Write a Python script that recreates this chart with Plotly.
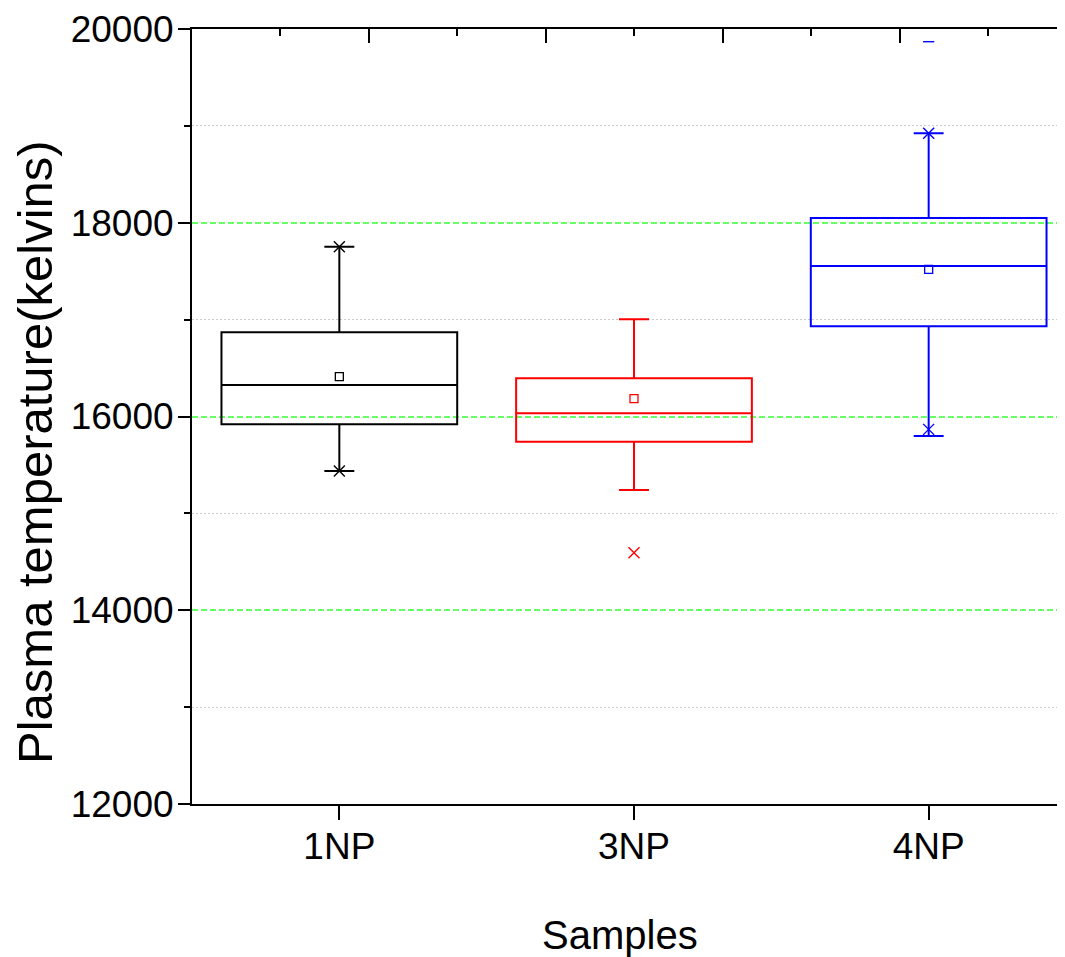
import plotly.graph_objects as go

categories = ["1NP", "3NP", "4NP"]
positions = [1, 2, 3]
q1 = [15919, 15740, 16931]
median = [16325, 16033, 17553]
q3 = [16869, 16394, 18049]
lower_whisker = [15437, 15241, 15798]
upper_whisker = [17753, 17003, 18923]
means = [16411, 16184, 17519]
colors = ["#000000", "#ff0000", "#0000ff"]

# extreme / outlier markers (x markers)
x_marks_pos = [1, 1, 2, 3, 3]
x_marks_val = [17753, 15437, 14594, 18923, 15867]
x_marks_col = ["#000000", "#000000", "#ff0000", "#0000ff", "#0000ff"]
# max marker shown as dash for 4NP
dash_pos = [3]
dash_val = [19869]

FONT = "Liberation Sans, Arial"
PLOT_W = 884

fig = go.Figure()

for i in range(3):
    fig.add_trace(go.Box(
        x=[positions[i]], q1=[q1[i]], median=[median[i]], q3=[q3[i]],
        lowerfence=[lower_whisker[i]], upperfence=[upper_whisker[i]],
        width=0.8, whiskerwidth=0.127, boxpoints=False,
        fillcolor="rgba(0,0,0,0)", line=dict(color=colors[i], width=2),
        showlegend=False, hoverinfo="skip",
    ))

fig.add_trace(go.Scatter(
    x=positions, y=means, mode="markers",
    marker=dict(symbol="square-open", size=8, color=colors, line=dict(width=1.3, color=colors)),
    showlegend=False, hoverinfo="skip",
))
fig.add_trace(go.Scatter(
    x=x_marks_pos, y=x_marks_val, mode="markers",
    marker=dict(symbol="x-thin-open", size=11, color=x_marks_col, line=dict(width=1.4, color=x_marks_col)),
    showlegend=False, hoverinfo="skip",
))
fig.add_trace(go.Scatter(
    x=dash_pos, y=dash_val, mode="markers",
    marker=dict(symbol="line-ew-open", size=8, color="#0000ff", line=dict(width=1.4, color="#0000ff")),
    showlegend=False, hoverinfo="skip",
))
# helper traces so the decorative top/right axes exist
fig.add_trace(go.Scatter(x=[None], y=[None], xaxis="x2", yaxis="y", showlegend=False, hoverinfo="skip"))
fig.add_trace(go.Scatter(x=[None], y=[None], xaxis="x", yaxis="y2", showlegend=False, hoverinfo="skip"))

fig.update_layout(
    width=184 + PLOT_W + 1, height=949,
    margin=dict(l=184, r=1, t=21, b=153, autoexpand=False),
    paper_bgcolor="white", plot_bgcolor="white",
    boxmode="overlay",
    font=dict(family=FONT, color="black", size=37),
    xaxis=dict(
        range=[0.5, 3.5],
        tickvals=positions, ticktext=categories,
        ticks="outside", ticklen=14, tickwidth=2, tickcolor="black",
        ticklabelstandoff=-5,
        showline=True, linewidth=2, linecolor="black",
        showgrid=False, zeroline=False,
        tickfont=dict(family=FONT, size=37, color="black"),
    ),
    xaxis2=dict(
        overlaying="x", side="top", range=[0, PLOT_W / 88.44],
        dtick=2, tick0=0, ticks="inside", ticklen=14, tickwidth=2, tickcolor="black",
        minor=dict(dtick=1, ticks="inside", ticklen=7, tickwidth=2, tickcolor="black", showgrid=False),
        showticklabels=False, showline=True, linewidth=2, linecolor="black",
        showgrid=False, zeroline=False,
    ),
    yaxis=dict(
        range=[12000, 20000], dtick=2000, tick0=12000, tickformat="d",
        ticks="outside", ticklen=12, tickwidth=2, tickcolor="black",
        ticklabelstandoff=-3,
        showline=True, linewidth=2, linecolor="black",
        showgrid=True, gridcolor="#66ff66", gridwidth=1.5, griddash="6px,3px",
        minor=dict(dtick=1000, ticks="outside", ticklen=6, tickwidth=2, tickcolor="black",
                   showgrid=True, gridcolor="#cccccc", gridwidth=1.2, griddash="2px,2px"),
        zeroline=False,
        tickfont=dict(family=FONT, size=37, color="black"),
    ),
    yaxis2=dict(
        overlaying="y", side="right", range=[0, 775 / 155.7],
        dtick=1, tick0=0, ticks="inside", ticklen=13, tickwidth=2, tickcolor="black",
        showticklabels=False, showline=True, linewidth=2, linecolor="black",
        showgrid=False, zeroline=False,
    ),
    annotations=[
        dict(text="Plasma temperature(kelvins)", textangle=-90, showarrow=False,
             xref="paper", yref="paper", x=(35 - 192) / PLOT_W, y=(804 - 452) / 775,
             xanchor="center", yanchor="middle",
             font=dict(family=FONT, size=49, color="black")),
        dict(text="Samples", showarrow=False,
             xref="paper", yref="paper", x=(619.5 - 192) / PLOT_W, y=-(935 - 804) / 775,
             xanchor="center", yanchor="middle",
             font=dict(family=FONT, size=40, color="black")),
    ],
)

fig.write_html("out.html")
